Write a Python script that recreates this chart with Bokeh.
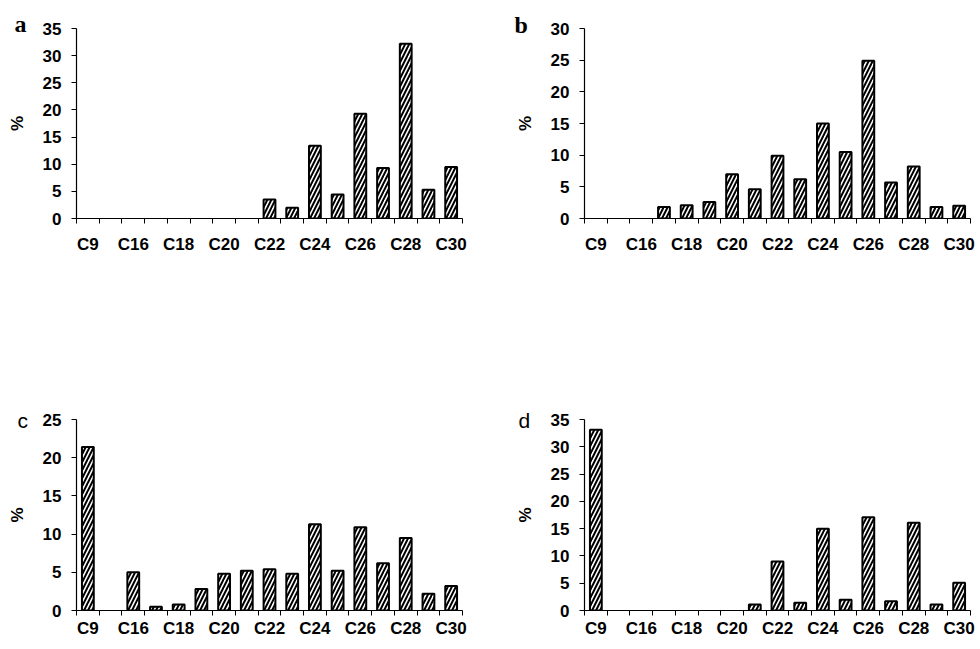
from bokeh.plotting import figure
from bokeh.models import FixedTicker, Range1d, ColumnDataSource
from bokeh.layouts import column, row
from bokeh.embed import file_html
from bokeh.resources import INLINE

# ---- data ----
categories = ["C9", "C15", "C16", "C17", "C18", "C19", "C20", "C21", "C22",
              "C23", "C24", "C25", "C26", "C27", "C28", "C29", "C30"]
shown_labels = ["C9", "C16", "C18", "C20", "C22", "C24", "C26", "C28", "C30"]

values_a = [0, 0, 0, 0, 0, 0, 0, 0, 3.5, 2.0, 13.4, 4.4, 19.3, 9.3, 32.2, 5.3, 9.5]
values_b = [0, 0, 0, 1.8, 2.1, 2.6, 7.0, 4.6, 9.9, 6.2, 15.0, 10.5, 24.9, 5.7, 8.2, 1.8, 2.0]
values_c = [21.4, 0, 5.0, 0.5, 0.8, 2.8, 4.8, 5.2, 5.4, 4.8, 11.3, 5.2, 10.9, 6.2, 9.5, 2.2, 3.2]
values_d = [33.1, 0, 0, 0, 0, 0, 0, 1.1, 9.0, 1.4, 15.0, 1.95, 17.1, 1.7, 16.1, 1.1, 5.1]

y_max_a, y_max_b, y_max_c, y_max_d = 35, 30, 25, 35
y_step = 5
y_title = "%"

TICK_FONT = "Liberation Sans"
TICK_STYLE = "bold"
TICK_SIZE = "17px"


def make_panel(letter, values, ymax, width, height, bl, br, bt, bb,
               letter_font, letter_size, letter_style, l_offset, l_standoff,
               x_standoff):
    n = len(categories)
    p = figure(width=width, height=height, output_backend="svg",
               toolbar_location=None, tools="",
               x_range=Range1d(-0.5, n - 0.5), y_range=Range1d(0, ymax),
               min_border_left=bl, min_border_right=br,
               min_border_top=bt, min_border_bottom=bb)
    p.outline_line_color = None
    p.background_fill_color = "white"
    p.border_fill_color = "white"
    p.xgrid.visible = False
    p.ygrid.visible = False

    xs = [i for i, v in enumerate(values) if v > 0]
    tops = [values[i] for i in xs]
    src = ColumnDataSource(dict(x=xs, top=tops))
    p.vbar(x="x", top="top", bottom=0, width=0.52, source=src,
           fill_color="white", line_color="black", line_width=2,
           hatch_pattern="/", hatch_color="black", hatch_weight=2,
           hatch_scale=8)

    # x axis
    major = [i for i, c in enumerate(categories) if c in shown_labels]
    minor = [i - 0.5 for i in range(n + 1)]
    xa = p.xaxis[0]
    xa.ticker = FixedTicker(ticks=major, minor_ticks=minor)
    xa.major_label_overrides = {i: categories[i] for i in major}
    xa.major_tick_line_color = None
    xa.major_tick_in = 0
    xa.major_tick_out = 5
    xa.minor_tick_in = 0
    xa.minor_tick_out = 5
    xa.minor_tick_line_color = "black"
    xa.axis_line_color = "black"
    xa.axis_line_width = 1.2
    xa.major_label_text_font = TICK_FONT
    xa.major_label_text_font_style = TICK_STYLE
    xa.major_label_text_font_size = TICK_SIZE
    xa.major_label_text_color = "black"
    xa.major_label_standoff = x_standoff

    # y axis
    ya = p.yaxis[0]
    ya.ticker = FixedTicker(ticks=list(range(0, ymax + 1, y_step)))
    ya.major_tick_in = 0
    ya.major_tick_out = 5
    ya.major_tick_line_color = "black"
    ya.axis_line_color = "black"
    ya.axis_line_width = 1.2
    ya.major_label_text_font = TICK_FONT
    ya.major_label_text_font_style = TICK_STYLE
    ya.major_label_text_font_size = TICK_SIZE
    ya.major_label_text_color = "black"
    ya.major_label_standoff = 10
    ya.axis_label = y_title
    ya.axis_label_text_font = TICK_FONT
    ya.axis_label_text_font_size = "17px"
    ya.axis_label_text_font_style = "bold"
    ya.axis_label_text_color = "black"
    ya.axis_label_standoff = 13

    # panel letter
    p.title.text = letter
    p.title.align = "left"
    p.title.offset = l_offset
    p.title.standoff = l_standoff
    p.title.text_font = letter_font
    p.title.text_font_size = letter_size
    p.title.text_font_style = letter_style
    p.title.text_color = "black"
    return p


pa = make_panel("a", values_a, y_max_a, 488, 380, 76, 26, 28, 162,
                "Liberation Serif", "24px", "bold", -62, -17, 11)
pb = make_panel("b", values_b, y_max_b, 492, 380, 96, 10, 28, 162,
                "Liberation Serif", "24px", "bold", -70, -18, 11)
pc = make_panel("c", values_c, y_max_c, 488, 269, 76, 26, 39, 39,
                "Liberation Sans", "21px", "normal", -59, -24, 3)
pd = make_panel("d", values_d, y_max_d, 492, 269, 96, 10, 39, 39,
                "Liberation Sans", "21px", "normal", -66, -25, 3)

layout = column(row(pa, pb), row(pc, pd))

open("out.html", "w").write(file_html(layout, INLINE))
